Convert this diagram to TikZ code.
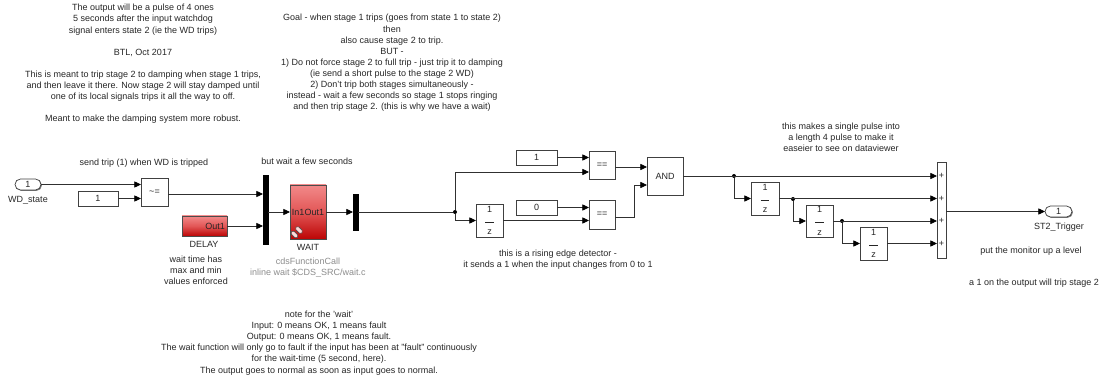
\documentclass[tikz,border=0pt]{standalone}
\usepackage{fontspec}
\setmainfont{Liberation Sans}
\usetikzlibrary{arrows.meta,shadows}
\definecolor{linecol}{HTML}{303030}
\definecolor{redtop}{HTML}{F28A8A}
\definecolor{redmid}{HTML}{E25656}
\definecolor{redbot}{HTML}{BC0505}
\newcommand{\fs}{\fontsize{6.75pt}{8.33pt}\selectfont}
\tikzset{
  x=0.75pt,y=-0.75pt,
  every node/.style={font=\fs,text=black!85,inner sep=0pt,outer sep=0pt},
  blockbox/.style={draw=black!75,line width=0.55pt,fill=white,align=center,
    drop shadow={shadow xshift=0.7pt,shadow yshift=-0.7pt,fill=black!50,opacity=1}},
  redbox/.style={draw=black!70,line width=0.55pt,align=center,top color=redtop,bottom color=redbot,middle color=redmid,
    drop shadow={shadow xshift=0.7pt,shadow yshift=-0.7pt,fill=black!50,opacity=1}},
  barbox/.style={draw=black,fill=black},
  portbox/.style={blockbox,rounded corners=4.1pt},
  wire/.style={draw=linecol,line width=0.6pt,-{Triangle[length=5pt,width=4.6pt,black]}},
  plainwire/.style={draw=linecol,line width=0.6pt},
  dot/.style={circle,fill=black,minimum size=3pt},
  note/.style={align=center},
  graynote/.style={align=center,text=black!45},
}
\newcommand{\blk}[6][blockbox]{\node[#1,minimum width={(#4-#2)*0.75pt},minimum height={(#5-#3)*0.75pt}] (#6) at ({(#2+#4)/2},{(#3+#5)/2}) {\blktext};}
\newcommand{\fraction}{1\\[0.6pt]\rule[1.5pt]{6.5pt}{0.4pt}\\[-0.6pt]z}
\begin{document}
\begin{tikzpicture}
\useasboundingbox (0,0) rectangle (1103,381);
% notes
\node[note] (n1) at (143,64) {The output will be a pulse of 4 ones\\5 seconds after the input watchdog\\signal enters state 2 (ie the WD trips)\\[8.33pt]BTL, Oct 2017\\[8.33pt]This is meant to trip stage 2 to damping when stage 1 trips,\\and then leave it there. Now stage 2 will stay damped until\\one of its local signals trips it all the way to off.\\[8.33pt]Meant to make the damping system more robust.};
\node[note] (n2) at (392,63) {Goal - when stage 1 trips (goes from state 1 to state 2)\\then\\also cause stage 2 to trip.\\BUT -\\1) Do not force stage 2 to full trip - just trip it to damping\\(ie send a short pulse to the stage 2 WD)\\2) Don't trip both stages simultaneously -\\instead - wait a few seconds so stage 1 stops ringing\\and then trip stage 2. (this is why we have a wait)};
\node[note] (n3) at (144,163) {send trip (1) when WD is tripped};
\node[note] (n4) at (307,161) {but wait a few seconds};
\node[note] (n5) at (196,270) {wait time has\\max and min\\values enforced};
\node[graynote] (n6) at (308,268) {cdsFunctionCall\\inline wait \$CDS\_SRC/wait.c};
\node[note] (n7) at (319,343) {note for the 'wait'\\Input: 0 means OK, 1 means fault\\Output: 0 means OK, 1 means fault.\\The wait function will only go to fault if the input has been at "fault" continuously\\for the wait-time (5 second, here).\\The output goes to normal as soon as input goes to normal.};
\node[note] (n8) at (558,259.5) {this is a rising edge detector -\\it sends a 1 when the input changes from 0 to 1};
\node[note] (n9) at (841,137.5) {this makes a single pulse into\\a length 4 pulse to make it\\easeier to see on dataviewer};
\node[note] (n10) at (1031,251) {put the monitor up a level};
\node[note] (n11) at (1034,283) {a 1 on the output will trip stage 2};
% blocks
\def\blktext{1}\blk[portbox]{15}{179}{41}{190}{inp}
\node (inpL) at (28,200) {WD\_state};
\blk{78}{191}{118}{206}{c1}
\def\blktext{\textasciitilde=}\blk{141}{178}{168}{206}{cmp}
\def\blktext{\hspace*{16pt}Out1}\blk[redbox]{182}{216}{227}{236}{delay}
\node (delayL) at (204,244) {DELAY};
\def\blktext{}\blk[barbox]{263}{175}{268}{244}{mux}
\def\blktext{In1Out1}\blk[redbox]{290}{185}{326}{239}{wait}
\node (waitL) at (308,247) {WAIT};
\def\blktext{}\blk[barbox]{353}{194}{358}{230}{demux}
\def\blktext{1}\blk{516}{150}{557}{165}{c2}
\def\blktext{0}\blk{516}{200}{557}{215}{c3}
\def\blktext{==}\blk{589}{151}{615}{179}{eqa}
\blk{589}{200}{615}{229}{eqb}
\def\blktext{AND}\blk{647}{157}{683}{195}{and}
\def\blktext{\fraction}\blk{476}{204}{503}{237}{z0}
\blk{751}{182}{779}{215}{z1}
\blk{806}{205}{833}{237}{z2}
\blk{860}{227}{887}{260}{z3}
\def\blktext{}\blk{937}{162}{946}{258}{sum}
\node (p1) at (941.5,176) {+};
\node (p2) at (941.5,199) {+};
\node (p3) at (941.5,221) {+};
\node (p4) at (941.5,244) {+};
\def\blktext{1}\blk[portbox]{1045}{206}{1072}{217}{outp}
\node (outL) at (1059,227) {ST2\_Trigger};
% link icon
\foreach \xx/\yy in {294.5/234.5,299/230}{\draw[black!70,fill=white!85!red,line width=0.5pt,rotate around={-45:(\xx,\yy)},rounded corners=1.2pt] (\xx-4,\yy-2) rectangle (\xx+4,\yy+2);}
% port coordinates
\coordinate (j1) at (455,212);
\coordinate (j2) at (734,176);
\coordinate (j3) at (793,199);
\coordinate (j4) at (842,221);
\node[dot] (d1) at (j1) {};
\node[dot] (d2) at (j2) {};
\node[dot] (d3) at (j3) {};
\node[dot] (d4) at (j4) {};
% wires
\draw[wire] (inp.east) -- (cmp.west|-inp.east);
\draw[wire] (c1.east) -- (cmp.west|-c1.east);
\coordinate (cmpO) at (cmp.east|-0,194);
\draw[wire] (cmpO) -- (mux.west|-cmpO);
\coordinate (delO) at (delay.east);
\draw[wire] (delO) -- (mux.west|-delO);
\draw[wire] (mux.east|-wait.west) -- (wait.west);
\draw[wire] (wait.east) -- (demux.west|-wait.east);
\draw[plainwire] (demux.east|-wait.east) -- (d1);
\coordinate (upb) at (j1|-0,172);
\draw[wire] (d1) -- (upb) -- (eqa.west|-upb);
\draw[wire] (d1) |- (z0.west);
\draw[wire] (z0.east) -- (eqb.west|-z0.east);
\draw[wire] (c2.east) -- (eqa.west|-c2.east);
\draw[wire] (c3.east) -- (eqb.west|-c3.east);
\coordinate (eqaO) at (eqa.east|-0,167);
\draw[wire] (eqaO) -- (and.west|-eqaO);
\coordinate (eqbO) at (eqb.east|-0,217);
\coordinate (andb) at (634,185);
\draw[wire] (eqbO) -| (andb) -- (and.west|-andb);
\coordinate (andO) at (and.east|-0,176);
\draw[wire] (andO) -- (sum.west|-andO);
\draw[wire] (d2) |- (z1.west);
\draw[wire] (z1.east) -- (sum.west|-z1.east);
\draw[wire] (d3) |- (z2.west);
\draw[wire] (z2.east) -- (sum.west|-z2.east);
\draw[wire] (d4) |- (z3.west);
\draw[wire] (z3.east) -- (sum.west|-z3.east);
\coordinate (sumO) at (sum.east|-outp.west);
\draw[wire] (sumO) -- (outp.west);
\end{tikzpicture}
\end{document}
